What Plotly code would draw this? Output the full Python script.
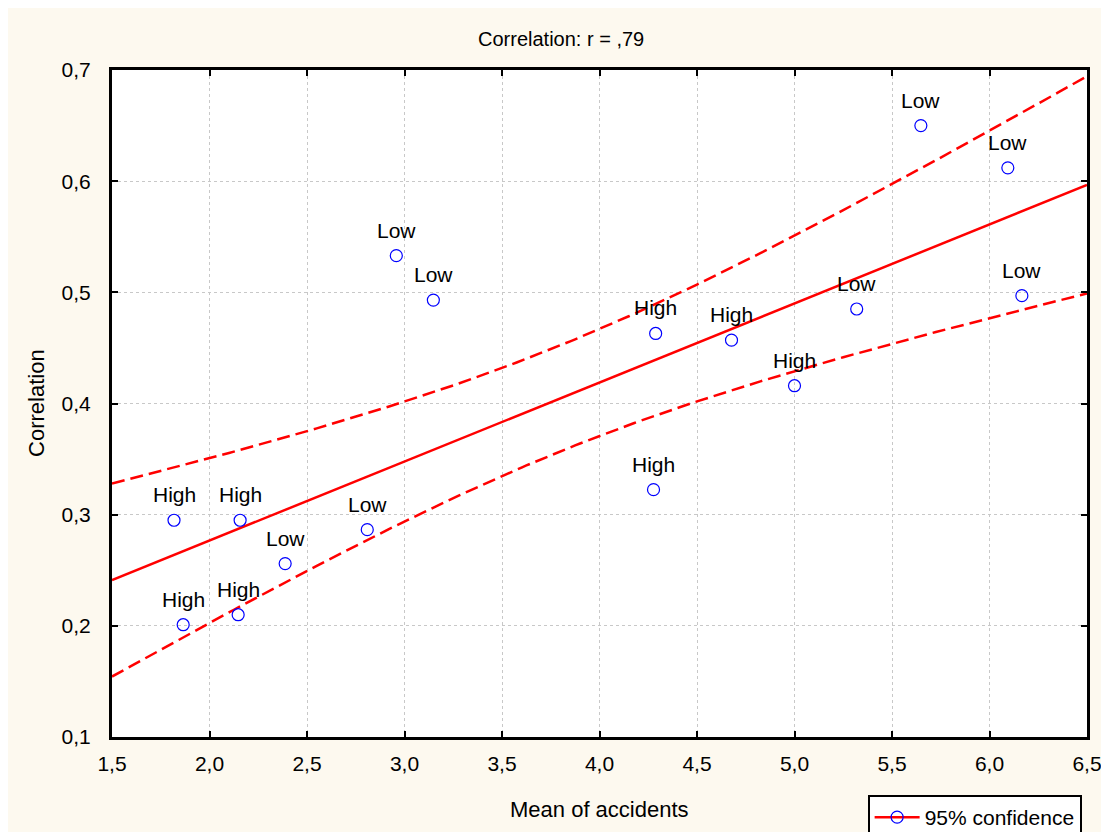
import numpy as np
import plotly.graph_objects as go

# Data
mean_accidents = [1.818, 2.157, 1.865, 2.147, 2.388, 2.809, 2.958, 3.148,
                  4.288, 4.277, 4.677, 5.000, 5.319, 5.648, 6.094, 6.166]
correlation = [0.295, 0.295, 0.201, 0.210, 0.256, 0.2865, 0.533, 0.493,
               0.463, 0.3225, 0.457, 0.416, 0.485, 0.650, 0.612, 0.497]
group = ["High", "High", "High", "High", "Low", "Low", "Low", "Low",
         "High", "High", "High", "High", "Low", "Low", "Low", "Low"]
x_ticks = [1.5, 2.0, 2.5, 3.0, 3.5, 4.0, 4.5, 5.0, 5.5, 6.0, 6.5]
y_ticks = [0.1, 0.2, 0.3, 0.4, 0.5, 0.6, 0.7]

# Linear fit with 95% confidence band
x = np.array(mean_accidents)
y = np.array(correlation)
n = len(x)
slope, intercept = np.polyfit(x, y, 1)
resid = y - (slope * x + intercept)
s = np.sqrt(np.sum(resid ** 2) / (n - 2))
sxx = np.sum((x - x.mean()) ** 2)
t_val = 2.1448  # t(0.975, 14)
xg = np.linspace(1.5, 6.5, 201)
fit = slope * xg + intercept
half = t_val * s * np.sqrt(1.0 / n + (xg - x.mean()) ** 2 / sxx)
r = np.corrcoef(x, y)[0, 1]

RED = "#FF0000"
BLUE = "#0000FF"
FONT = "Liberation Sans, Arial, sans-serif"
DASH = "13px,6px"

fig = go.Figure()
fig.add_trace(go.Scatter(x=xg, y=fit, mode="lines",
                         line=dict(color=RED, width=2.5), showlegend=False,
                         hoverinfo="skip"))
fig.add_trace(go.Scatter(x=xg, y=fit + half, mode="lines",
                         line=dict(color=RED, width=2.5, dash=DASH),
                         showlegend=False, hoverinfo="skip"))
fig.add_trace(go.Scatter(x=xg, y=fit - half, mode="lines",
                         line=dict(color=RED, width=2.5, dash=DASH),
                         showlegend=False, hoverinfo="skip"))
fig.add_trace(go.Scatter(x=mean_accidents, y=correlation, mode="markers",
                         marker=dict(symbol="circle-open", size=12, color=BLUE,
                                     line=dict(color=BLUE, width=1.2)),
                         showlegend=False))
fig.add_trace(go.Scatter(x=[None], y=[None], mode="lines+markers",
                         name="95% confidence",
                         line=dict(color=RED, width=2.5),
                         marker=dict(symbol="circle-open", size=12, color=BLUE,
                                     line=dict(color=BLUE, width=1.2))))

annotations = []
for xi, yi, g in zip(mean_accidents, correlation, group):
    annotations.append(dict(x=xi, y=yi, xref="x", yref="y", text=g,
                            showarrow=False, xanchor="center", yanchor="bottom",
                            yshift=12,
                            font=dict(family=FONT, size=21, color="black")))
# titles
annotations.append(dict(x=0.4605, y=1.0465, xref="paper", yref="paper",
                        text="Correlation: r = ," + str(int(round(r * 100))),
                        showarrow=False, xanchor="center", yanchor="middle",
                        font=dict(family=FONT, size=20, color="black")))
annotations.append(dict(x=0.5005, y=-0.1094, xref="paper", yref="paper",
                        text="Mean of accidents",
                        showarrow=False, xanchor="center", yanchor="middle",
                        font=dict(family=FONT, size=22, color="black")))
annotations.append(dict(x=-0.078, y=0.5007, xref="paper", yref="paper",
                        text="Correlation", textangle=-90,
                        showarrow=False, xanchor="center", yanchor="middle",
                        font=dict(family=FONT, size=22, color="black")))

fig.update_layout(
    width=1109, height=832,
    margin=dict(l=104, r=30, t=62, b=103, autoexpand=False),
    paper_bgcolor="#FDF9EF",
    plot_bgcolor="white",
    separators=",.",
    font=dict(family=FONT, size=21, color="black"),
    annotations=annotations,
    legend=dict(x=0.775, xanchor="left", y=-0.087, yanchor="top",
                bgcolor="white", bordercolor="black", borderwidth=2,
                itemwidth=45,
                font=dict(family=FONT, size=21, color="black")),
    showlegend=True,
)
fig.update_xaxes(range=[1.5, 6.5], tickvals=x_ticks, tickformat=".1f",
                 ticks="inside", ticklen=6, tickwidth=2, tickcolor="black",
                 ticklabelstandoff=6,
                 showline=True, linecolor="black", linewidth=3, mirror="ticks",
                 showgrid=True, gridcolor="#C8C8C8", griddash="dot", gridwidth=1,
                 zeroline=False,
                 tickfont=dict(family=FONT, size=21))
fig.update_yaxes(range=[0.1, 0.7], tickvals=y_ticks, tickformat=".1f",
                 ticks="inside", ticklen=6, tickwidth=2, tickcolor="black",
                 ticklabelstandoff=14,
                 showline=True, linecolor="black", linewidth=3, mirror="ticks",
                 showgrid=True, gridcolor="#C8C8C8", griddash="dot", gridwidth=1,
                 zeroline=False,
                 tickfont=dict(family=FONT, size=21))

fig.write_html("out.html")
